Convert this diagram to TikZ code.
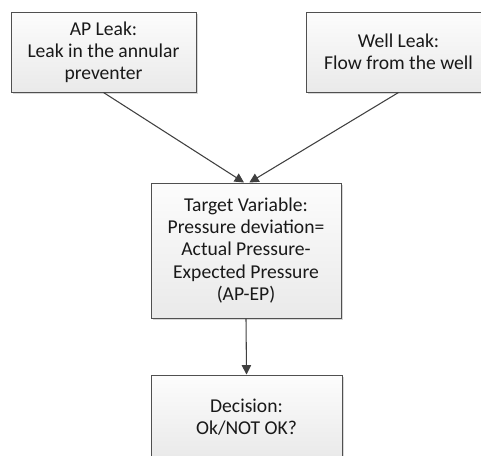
\documentclass[tikz,border=0pt]{standalone}
\usepackage{fontspec}
\setmainfont{Carlito}
\usetikzlibrary{shadows,arrows.meta}
\definecolor{boxline}{HTML}{505050}
\definecolor{arrowcol}{HTML}{404040}
\tikzset{
  flowbox/.style={draw=boxline, line width=0.75pt, top color=gray!2, bottom color=gray!17,
    drop shadow={shadow xshift=1.5pt, shadow yshift=-1.5pt, fill=gray!60, opacity=0.5},
    align=center, inner sep=0pt, font=\fontsize{14.7pt}{16.6pt}\selectfont, text=black!90},
  flowarrow/.style={draw=arrowcol, line width=0.8pt, -{Triangle[length=7pt,width=7pt]}}
}
\begin{document}
\begin{tikzpicture}[x=0.75pt, y=-0.75pt]
\useasboundingbox (0,0) rectangle (481,455);
\clip (0,0) rectangle (481,455);
\node[flowbox, minimum width=138.75pt, minimum height=60pt] (ap) at (103.5,52)
  {AP Leak:\\Leak in the annular\\preventer};
\node[flowbox, minimum width=138.75pt, minimum height=60pt] (well) at (398.5,52)
  {Well Leak:\\Flow from the well};
\node[flowbox, minimum width=142.5pt, minimum height=101.25pt] (target) at (246,250.5)
  {Target Variable:\\Pressure deviation=\\Actual Pressure-\\Expected Pressure\\(AP-EP)};
\node[flowbox, minimum width=143.25pt, minimum height=63pt] (dec) at (246.5,417)
  {Decision:\\Ok/NOT OK?};
\draw[flowarrow] (ap.south) -- ([xshift=-1.5pt]target.north);
\draw[flowarrow] (well.south) -- ([xshift=2.5pt]target.north);
\draw[flowarrow] (target.south) -- (dec.north);
\end{tikzpicture}
\end{document}
